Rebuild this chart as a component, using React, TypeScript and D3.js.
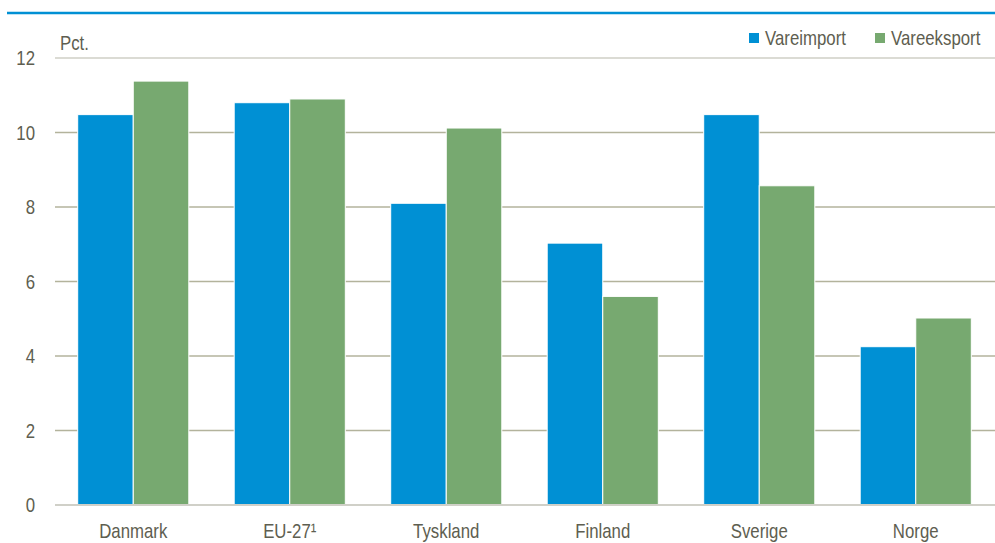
import React from "react";
import * as d3 from "d3";

const categories = ["Danmark", "EU-27¹", "Tyskland", "Finland", "Sverige", "Norge"];
const vareimport = [10.48, 10.8, 8.1, 7.03, 10.48, 4.25];
const vareeksport = [11.38, 10.9, 10.12, 5.6, 8.57, 5.02];
const yTicks = [0, 2, 4, 6, 8, 10, 12];
const seriesNames = ["Vareimport", "Vareeksport"];

const W = 995;
const H = 543;
const FONT = "'Liberation Sans', Arial, sans-serif";
const BLUE = "#0090d4";
const GREEN = "#77a970";
const TEXT = "#5e5e50";
const SX = 0.82;

function NText({ x, y, anchor = "start", children }: { x: number; y: number; anchor?: string; children: React.ReactNode }) {
  return (
    <text transform={`translate(${x},${y}) scale(${SX},1)`} textAnchor={anchor} fontSize={20.5} fill={TEXT}>
      {children}
    </text>
  );
}

export default function App() {
  const x = d3.scaleBand<string>().domain(categories).range([55, 994]).paddingInner(0.29).paddingOuter(0.145);
  const x1 = d3.scaleBand<string>().domain(seriesNames).range([0, x.bandwidth()]).padding(0);
  const y = d3.scaleLinear().domain([0, 12]).range([505, 58]);
  const series = [vareimport, vareeksport];
  const colors = [BLUE, GREEN];

  return (
    <svg width={W} height={H} style={{ position: "absolute", left: 0, top: 0, background: "#fff" }} fontFamily={FONT}>
      <line x1={7} x2={995} y1={13} y2={13} stroke={BLUE} strokeWidth={2.5} />
      {yTicks.map((t) => (
        <g key={t}>
          {t > 0 && (
            <line x1={55} x2={995} y1={y(t)} y2={y(t)} stroke={t === 12 ? "#cfcfc6" : "#b3b39c"} strokeWidth={1.3} />
          )}
          <NText x={35} y={y(t) + 7} anchor="end">{t}</NText>
        </g>
      ))}
      <NText x={60} y={50}>Pct.</NText>
      {series.map((vals, si) =>
        vals.map((v, i) => (
          <rect
            key={`${si}-${i}`}
            x={(x(categories[i]) as number) + (x1(seriesNames[si]) as number)}
            y={y(v)}
            width={x1.bandwidth()}
            height={y(0) - y(v)}
            fill={colors[si]}
            stroke="#ffffff"
            strokeWidth={1}
          />
        ))
      )}
      <line x1={55} x2={995} y1={y(0)} y2={y(0)} stroke="#d0d0c8" strokeWidth={2} />
      {categories.map((c) => (
        <NText key={c} x={(x(c) as number) + x.bandwidth() / 2} y={538} anchor="middle">{c}</NText>
      ))}
      <g>
        <rect x={749} y={33} width={10} height={10} fill={BLUE} />
        <NText x={765} y={45}>{seriesNames[0]}</NText>
        <rect x={875} y={33} width={10} height={10} fill={GREEN} />
        <NText x={891} y={45}>{seriesNames[1]}</NText>
      </g>
    </svg>
  );
}
